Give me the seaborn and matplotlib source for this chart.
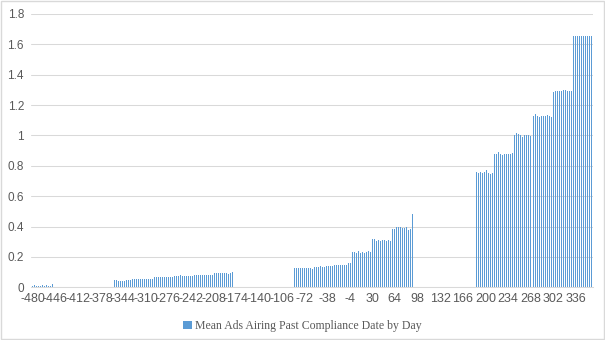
import numpy as np
import pandas as pd
import matplotlib
matplotlib.use("Agg")
import matplotlib.pyplot as plt
import seaborn as sns
from matplotlib.patches import Patch, Rectangle

# ---- data (one per visible bar, 3-day spacing) ----
STEP = 3
seg1_start = -480
seg1_vals = [0.006, 0.014, 0.010, 0.010, 0.011, 0.013, 0.010, 0.013, 0.010, 0.009, 0.022]

seg2_start = -357
seg2_vals = [0.050, 0.046, 0.044, 0.044, 0.044, 0.044, 0.046, 0.046, 0.046, 0.052,
             0.055, 0.057, 0.052, 0.055, 0.057, 0.052, 0.052, 0.055, 0.057, 0.052,
             0.065, 0.066, 0.066, 0.066, 0.067, 0.066, 0.066, 0.066, 0.066, 0.066,
             0.074, 0.074, 0.072, 0.079, 0.077, 0.074, 0.074, 0.077, 0.074, 0.072,
             0.083, 0.083, 0.083, 0.083, 0.083, 0.083, 0.083, 0.081, 0.083, 0.083,
             0.092, 0.096, 0.094, 0.096, 0.094, 0.094, 0.094, 0.090, 0.094, 0.098]

seg3_start = -87
seg3_vals = [0.127, 0.127, 0.124, 0.127, 0.127, 0.127, 0.127, 0.127, 0.127, 0.122,
             0.135, 0.135, 0.133, 0.138, 0.135, 0.135, 0.138, 0.140, 0.138, 0.138,
             0.149, 0.149, 0.149, 0.149, 0.149, 0.149, 0.149, 0.157, 0.157,
             0.232, 0.232, 0.223, 0.238, 0.227, 0.232, 0.227, 0.232, 0.238, 0.232,
             0.317, 0.317, 0.304, 0.310, 0.304, 0.310, 0.310, 0.304, 0.310, 0.304,
             0.387, 0.383, 0.396, 0.396, 0.396, 0.391, 0.391, 0.396, 0.378, 0.387,
             0.480]

seg4_start = 186
seg4_vals = [0.759, 0.753, 0.759, 0.753, 0.759, 0.770, 0.753, 0.746, 0.753,
             0.878, 0.878, 0.889, 0.878, 0.871, 0.878, 0.878, 0.878, 0.878, 0.882,
             1.001, 1.014, 1.007, 1.001, 0.990, 1.001, 1.001, 1.001, 0.996, 0.996,
             1.128, 1.139, 1.128, 1.124, 1.128, 1.128, 1.128, 1.133, 1.128, 1.124,
             1.286, 1.290, 1.293, 1.293, 1.293, 1.297, 1.297, 1.293, 1.293, 1.293,
             1.655, 1.655, 1.655, 1.655, 1.655, 1.655, 1.655, 1.655, 1.655, 1.655]

x_ticks = list(range(-480, 337, 34))
y_ticks = [0, 0.2, 0.4, 0.6, 0.8, 1.0, 1.2, 1.4, 1.6, 1.8]
series_label = "Mean Ads Airing Past Compliance Date by Day"

# ---- build table ----
rows = []
for start, vals in [(seg1_start, seg1_vals), (seg2_start, seg2_vals),
                    (seg3_start, seg3_vals), (seg4_start, seg4_vals)]:
    for i, v in enumerate(vals):
        rows.append((start + STEP * i, v))
df = pd.DataFrame(rows, columns=["day", "value"])

sns.set_theme(style="white")
plt.rcParams['font.family'] = ['Liberation Sans', 'DejaVu Sans']

BLUE = "#5B9BD5"
GREY_TXT = "#595959"
GRID = "#d9d9d9"

fig = plt.figure(figsize=(6.05, 3.4), dpi=100)
ax = fig.add_axes([0.0512, 0.155, 0.9294, 0.804])

sns.barplot(data=df, x="day", y="value", native_scale=True, color=BLUE,
            saturation=1, width=0.5, linewidth=0, errorbar=None, ax=ax)

ax.set_xlim(-482.4, 362)
ax.set_ylim(0, 1.8)
ax.set_xticks(x_ticks)
ax.set_xticklabels([str(t) for t in x_ticks])
ax.set_yticks(y_ticks)
ax.set_yticklabels([f"{t:g}" for t in y_ticks])
ax.set_xlabel("")
ax.set_ylabel("")

ax.yaxis.grid(True, color=GRID, linewidth=0.75)
ax.xaxis.grid(False)
ax.set_axisbelow(True)
for s in ["left", "top", "right"]:
    ax.spines[s].set_visible(False)
ax.spines["bottom"].set_color(GRID)
ax.spines["bottom"].set_linewidth(0.75)

ax.tick_params(axis="both", length=0, colors=GREY_TXT)
ax.tick_params(axis="x", pad=4, labelsize=9)
ax.tick_params(axis="y", pad=5, labelsize=8.5)

fig.legend(handles=[Patch(facecolor=BLUE, edgecolor="none", label=series_label)],
           loc="center", bbox_to_anchor=(0.5, 0.041), frameon=False,
           prop={"family": "Liberation Serif", "size": 8.5},
           handlelength=0.75, handleheight=0.75, handletextpad=0.3,
           labelcolor=GREY_TXT)

fig.patches.append(Rectangle((0.001, 0.002), 0.997, 0.996, transform=fig.transFigure,
                             fill=False, edgecolor=GRID, linewidth=1))

fig.savefig("out.png", dpi=100)
